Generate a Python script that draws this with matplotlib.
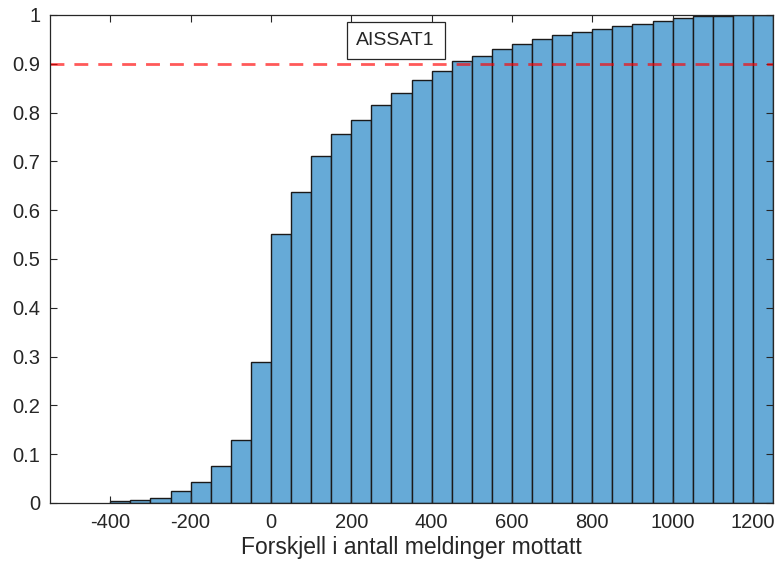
import numpy as np
import matplotlib
matplotlib.use("Agg")
import matplotlib.pyplot as plt

plt.rcParams["font.family"] = ["Liberation Sans", "DejaVu Sans"]
plt.rcParams["axes.unicode_minus"] = False

# --- DATA: cumulative fraction per 50-message bin ---
bin_left = np.arange(-400, 1250, 50)
bin_width = 50
cum_frac = [0.005, 0.006, 0.011, 0.025, 0.044, 0.075, 0.129, 0.288,
            0.552, 0.637, 0.711, 0.756, 0.784, 0.816, 0.840, 0.867,
            0.886, 0.905, 0.917, 0.930, 0.940, 0.950, 0.959, 0.965,
            0.971, 0.978, 0.981, 0.988, 0.994, 0.998, 0.998, 1.0, 1.0]
threshold = 0.9
label = "AISSAT1"
xlabel = "Forskjell i antall meldinger mottatt"
xticks = list(range(-400, 1201, 200))
yticks = [0, 0.1, 0.2, 0.3, 0.4, 0.5, 0.6, 0.7, 0.8, 0.9, 1.0]
yticklabels = ["0", "0.1", "0.2", "0.3", "0.4", "0.5", "0.6", "0.7", "0.8", "0.9", "1"]

# --- PLOT ---
fig = plt.figure(figsize=(7.76, 5.68), dpi=100)
ax = fig.add_axes([50 / 776, 65 / 568, 723 / 776, 488 / 568])

ax.bar(bin_left, cum_frac, width=bin_width, align="edge",
       color="#66aad7", edgecolor="#1a1a1a", linewidth=1.0)
ax.axhline(threshold, color="#ff0000", alpha=0.65, linewidth=2.0,
           linestyle=(0, (5.0, 3.6)))

ax.text(0.478, 0.948, label, transform=ax.transAxes, ha="center", va="center",
        fontsize=14, color="#262626",
        bbox=dict(boxstyle="square,pad=0.5", facecolor="white",
                  edgecolor="#262626", linewidth=0.9))

ax.set_xlim(-550, 1250)
ax.set_ylim(0, 1)
ax.set_xticks(xticks)
ax.set_yticks(yticks)
ax.set_yticklabels(yticklabels)
ax.tick_params(direction="in", top=True, right=True, length=5, width=0.8,
               colors="#262626", labelsize=14.5, pad=7)
for s in ax.spines.values():
    s.set_color("#262626")
    s.set_linewidth(0.9)
ax.set_xlabel(xlabel, fontsize=16.5, color="#262626", labelpad=3)

fig.savefig("out.png", dpi=100)
